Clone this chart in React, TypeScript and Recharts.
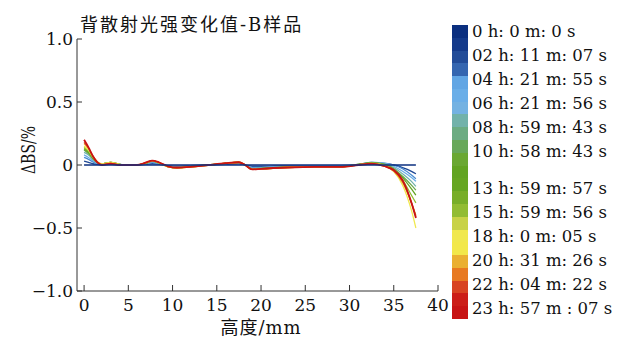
import React from 'react';
import { LineChart, Line, XAxis, YAxis } from 'recharts';

const heights = [0, 0.5, 1, 1.5, 2, 3, 4, 5, 6, 7, 7.7, 8.5, 9.5, 10.5, 12, 14, 16, 17.5, 18.2, 19, 20, 23, 26, 29, 31, 32.5, 34, 35, 36, 37, 37.5];

const timeLabels = [
  '0 h: 0 m: 0 s',
  '02 h: 11 m: 07 s',
  '04 h: 21 m: 55 s',
  '06 h: 21 m: 56 s',
  '08 h: 59 m: 43 s',
  '10 h: 58 m: 43 s',
  '13 h: 59 m: 57 s',
  '15 h: 59 m: 56 s',
  '18 h: 0 m: 05 s',
  '20 h: 31 m: 26 s',
  '22 h: 04 m: 22 s',
  '23 h: 57 m : 07 s',
];

const seriesColors = ['#0b2f7f', '#1f4894', '#4a8ad0', '#6aaee8', '#72b2aa', '#68a84a', '#62a422', '#92bc32', '#f0e84e', '#eab032', '#d84422', '#c81414'];

const s00 = [0, 0, 0, 0, 0, 0, 0, 0, 0, 0, 0, 0, 0, 0, 0, 0, 0, 0, 0, 0, 0, 0, 0, 0, 0, 0, 0, 0, 0, 0, 0];
const s02 = [0.03, 0.02, 0.01, 0.005, 0, 0.005, 0, 0, 0, 0.005, 0.01, 0.005, -0.005, -0.01, -0.005, 0, 0.005, 0.01, 0, -0.01, -0.01, -0.005, -0.005, -0.005, 0, 0.015, 0.01, 0, -0.02, -0.05, -0.07];
const s04 = [0.06, 0.045, 0.025, 0.01, 0.005, 0.01, 0.005, 0, 0, 0.01, 0.02, 0.01, -0.01, -0.015, -0.01, 0, 0.01, 0.015, 0, -0.02, -0.02, -0.01, -0.01, -0.01, 0, 0.02, 0.015, 0, -0.03, -0.08, -0.11];
const s06 = [0.08, 0.06, 0.035, 0.015, 0.01, 0.015, 0.005, 0, 0, 0.01, 0.025, 0.012, -0.01, -0.02, -0.01, 0, 0.01, 0.02, 0, -0.025, -0.022, -0.012, -0.01, -0.01, 0.005, 0.02, 0.012, -0.01, -0.05, -0.1, -0.13];
const s08 = [0.1, 0.08, 0.045, 0.02, 0.01, 0.02, 0.005, 0, 0, 0.015, 0.028, 0.014, -0.012, -0.02, -0.012, 0, 0.012, 0.02, 0, -0.028, -0.025, -0.015, -0.012, -0.012, 0.005, 0.02, 0.008, -0.02, -0.07, -0.13, -0.17];
const s10 = [0.12, 0.09, 0.05, 0.02, 0.01, 0.02, 0.005, 0, 0, 0.015, 0.03, 0.015, -0.012, -0.02, -0.012, 0, 0.012, 0.02, 0, -0.03, -0.026, -0.016, -0.013, -0.013, 0.005, 0.018, 0.005, -0.03, -0.09, -0.16, -0.2];
const s13 = [0.13, 0.1, 0.055, 0.02, 0.01, 0.02, 0.005, 0, 0, 0.015, 0.03, 0.015, -0.014, -0.022, -0.014, 0, 0.013, 0.022, 0, -0.032, -0.028, -0.017, -0.013, -0.014, 0.004, 0.016, 0.002, -0.035, -0.1, -0.19, -0.24];
const s15 = [0.14, 0.11, 0.06, 0.02, 0.01, 0.02, 0.005, 0, 0, 0.017, 0.032, 0.016, -0.015, -0.022, -0.015, 0, 0.013, 0.022, 0, -0.033, -0.03, -0.018, -0.014, -0.014, 0.003, 0.014, 0, -0.04, -0.12, -0.24, -0.3];
const s18 = [0.15, 0.12, 0.065, 0.025, 0.01, 0.02, 0.005, 0, 0, 0.018, 0.033, 0.017, -0.015, -0.024, -0.016, -0.002, 0.014, 0.022, 0, -0.035, -0.032, -0.02, -0.015, -0.015, 0.002, 0.012, -0.005, -0.05, -0.16, -0.36, -0.5];
const s20 = [0.17, 0.13, 0.07, 0.025, 0.005, 0.015, 0.003, 0, 0, 0.018, 0.034, 0.018, -0.015, -0.024, -0.016, -0.002, 0.014, 0.022, 0, -0.035, -0.032, -0.02, -0.015, -0.015, 0.002, 0.01, -0.01, -0.05, -0.14, -0.3, -0.4];
const s22 = [0.18, 0.135, 0.07, 0.022, 0.002, 0.012, 0.002, 0, 0, 0.019, 0.035, 0.019, -0.012, -0.022, -0.015, -0.002, 0.014, 0.022, 0, -0.034, -0.031, -0.02, -0.015, -0.015, 0, 0.008, -0.012, -0.045, -0.13, -0.3, -0.41];
const s23 = [0.2, 0.14, 0.07, 0.02, 0, 0.01, 0, 0, 0, 0.02, 0.035, 0.02, -0.01, -0.02, -0.015, 0, 0.015, 0.022, 0, -0.035, -0.03, -0.02, -0.015, -0.015, 0, 0.01, -0.01, -0.04, -0.12, -0.3, -0.42];

const seriesValues = [s00, s02, s04, s06, s08, s10, s13, s15, s18, s20, s22, s23];

const legendBarColors = ['#0b2f7f', '#143a8a', '#224c98', '#3566b0', '#62a6e4', '#6aaee8', '#74b2e2', '#72b2aa', '#6cac82', '#68a85a', '#6aa832', '#62a422', '#66a622', '#78ae28', '#92bc32', '#c8d246', '#f0e84e', '#f2e84a', '#eab032', '#e87a22', '#d84422', '#cc1e18', '#c81414'];

const xTicks = [0, 5, 10, 15, 20, 25, 30, 35, 40];
const yTicks = [-1, -0.5, 0, 0.5, 1];
const yTickLabels = ['\u22121.0', '\u22120.5', '0', '0.5', '1.0'];

const data = heights.map((h, i) => {
  const row: Record<string, number> = { h };
  seriesValues.forEach((vals, k) => {
    row['s' + k] = vals[i];
  });
  return row;
});

const SERIF = '"DejaVu Serif", "Liberation Serif", serif';
const CJK = '"DejaVu Serif", "Noto Sans CJK SC", serif';
const AXIS = '#333333';

const XTick = (props: any) => {
  const { x, y, payload } = props;
  return (
    <g>
      <line x1={x} x2={x} y1={y} y2={y - 6} stroke={AXIS} strokeWidth={1} />
      <text x={x} y={y + 20} textAnchor="middle" fontFamily={SERIF} fontSize={17} fill="#111">
        {payload.value}
      </text>
    </g>
  );
};

const YTick = (props: any) => {
  const { x, y, payload } = props;
  const idx = yTicks.indexOf(payload.value);
  return (
    <g>
      <line x1={x} x2={x + 5} y1={y} y2={y} stroke={AXIS} strokeWidth={1} />
      <text x={x - 4} y={y + 6} textAnchor="end" fontFamily={SERIF} fontSize={17} fill="#111">
        {idx >= 0 ? yTickLabels[idx] : payload.value}
      </text>
    </g>
  );
};

const drawOrder = [1, 2, 3, 4, 5, 6, 7, 8, 9, 10, 11, 0];

export default function App() {
  const segH = 294 / legendBarColors.length;
  return (
    <div style={{ position: 'relative', width: 617, height: 330 }}>
      <LineChart width={617} height={330} data={data} margin={{ top: 31, right: 187, left: 0, bottom: 0 }}>
        <XAxis
          type="number"
          dataKey="h"
          domain={[-0.8, 40]}
          ticks={xTicks}
          allowDataOverflow
          height={47}
          tickSize={0}
          tickMargin={0}
          tick={XTick}
          stroke={AXIS}
          axisLine={{ stroke: AXIS }}
          tickLine={false}
          interval={0}
        />
        <YAxis
          type="number"
          domain={[-1, 1]}
          ticks={yTicks}
          width={69}
          tickSize={0}
          tickMargin={0}
          tick={YTick}
          axisLine={{ stroke: AXIS }}
          tickLine={false}
          interval={0}
        />
        {drawOrder.map((k) => (
          <Line
            key={k}
            type="monotone"
            dataKey={'s' + k}
            stroke={seriesColors[k]}
            strokeWidth={k === 11 ? 1.8 : 1.3}
            dot={false}
            isAnimationActive={false}
          />
        ))}
        <text x={72} y={23} fontFamily={CJK} fontSize={18} letterSpacing={2} fill="#111">
          背散射光强变化值-B样品
        </text>
        <text
          x={0}
          y={0}
          transform="translate(21 142) rotate(-90) scale(1 1.35)"
          textAnchor="middle"
          dominantBaseline="central"
          fontFamily={SERIF}
          fontSize={14}
          fill="#111"
        >
          ΔBS/%
        </text>
        <text x={253} y={326} textAnchor="middle" fontFamily={CJK} fontSize={18} letterSpacing={1} fill="#111">
          高度/mm
        </text>
      </LineChart>
      <div style={{ position: 'absolute', left: 444, top: 17, width: 16, height: 294 }}>
        {legendBarColors.map((c, i) => (
          <div key={i} style={{ position: 'absolute', left: 0, top: i * segH, width: 16, height: segH + 0.5, background: c }} />
        ))}
      </div>
      {timeLabels.map((t, i) => {
        const cy = i < 6 ? 24 + i * 24 : 181 + (i - 6) * 24;
        return (
          <div
            key={t}
            style={{
              position: 'absolute',
              left: 464,
              top: cy - 11,
              height: 22,
              lineHeight: '22px',
              fontFamily: SERIF,
              fontSize: 16.5,
              whiteSpace: 'nowrap',
              color: '#111',
            }}
          >
            {t}
          </div>
        );
      })}
    </div>
  );
}
